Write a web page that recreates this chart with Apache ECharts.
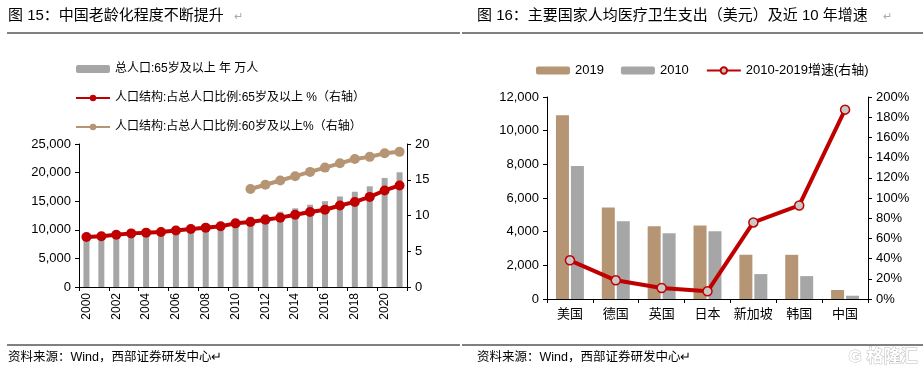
<!DOCTYPE html>
<html>
<head>
<meta charset="utf-8">
<script src="https://cdn.jsdelivr.net/npm/echarts@6/dist/echarts.min.js"></script>
<style>
html,body{margin:0;padding:0;background:#fff;}
#main{width:923px;height:377px;}
</style>
</head>
<body>
<div id="main"></div>
<script>
// 图15 数据
var years = ['2000','2001','2002','2003','2004','2005','2006','2007','2008','2009','2010',
    '2011','2012','2013','2014','2015','2016','2017','2018','2019','2020','2021'];
var pop65 = [8821,9062,9377,9692,9857,10055,10419,10636,10956,11307,11894,
    12288,12714,13161,13755,14386,15003,15831,16658,17603,19064,20056];
var ratio65 = [7.0,7.1,7.3,7.5,7.6,7.7,7.9,8.1,8.3,8.5,8.9,
    9.1,9.4,9.7,10.1,10.5,10.8,11.4,11.9,12.6,13.5,14.2];
var ratio60 = ['-','-','-','-','-','-','-','-','-','-','-',
    13.7,14.3,14.9,15.5,16.1,16.7,17.3,17.9,18.2,18.7,18.9];

// 图16 数据
var countries = ['美国','德国','英国','日本','新加坡','韩国','中国'];
var spend2019 = [10921,5440,4315,4360,2630,2625,535];
var spend2010 = [7900,4620,3910,4030,1480,1360,195];
var growth = [38.3,18.5,10.9,7.6,75.8,92.6,187.5];

var FONT = '"Liberation Sans","Noto Sans CJK SC",sans-serif';
var RED = '#c00000', TAN = '#b59574', GRAY = '#a6a6a6';

var fmtNum = function (v) { return v.toLocaleString('en-US'); };

var axisBase = {
    axisLine: {show: true, lineStyle: {color: '#000', width: 1}},
    axisTick: {show: true, inside: false, length: 4, lineStyle: {color: '#000'}},
    splitLine: {show: false},
    axisLabel: {color: '#000', fontSize: 13, fontFamily: FONT}
};

var myChart = echarts.init(document.getElementById('main'));
var option = {
    animation: false,
    textStyle: {fontFamily: FONT},
    graphic: [
        {type: 'text', left: 8, top: 8, style: {text: '图 15：中国老龄化程度不断提升', font: '15px ' + FONT, fill: '#000'}},
        {type: 'text', left: 234, top: 11, style: {text: '↵', font: '11px ' + FONT, fill: '#aaa'}},
        {type: 'text', left: 477, top: 8, style: {text: '图 16：主要国家人均医疗卫生支出（美元）及近 10 年增速', font: '15px ' + FONT, fill: '#000'}},
        {type: 'text', left: 883, top: 11, style: {text: '↵', font: '11px ' + FONT, fill: '#aaa'}},
        {type: 'line', shape: {x1: 7, y1: 33, x2: 460, y2: 33}, style: {stroke: '#000', lineWidth: 1}},
        {type: 'line', shape: {x1: 462, y1: 33, x2: 923, y2: 33}, style: {stroke: '#000', lineWidth: 1}},
        {type: 'line', shape: {x1: 7, y1: 345, x2: 460, y2: 345}, style: {stroke: '#000', lineWidth: 1}},
        {type: 'line', shape: {x1: 462, y1: 345, x2: 923, y2: 345}, style: {stroke: '#000', lineWidth: 1}},
        {type: 'text', left: 8, top: 351, style: {text: '资料来源：Wind，西部证券研发中心↵', font: '12.5px ' + FONT, fill: '#000'}},
        {type: 'text', left: 477, top: 351, style: {text: '资料来源：Wind，西部证券研发中心↵', font: '12.5px ' + FONT, fill: '#000'}},
        {type: 'text', left: 848, top: 348, style: {text: 'G 格隆汇', font: 'bold 17px ' + FONT, fill: '#fff', stroke: '#bbb', lineWidth: 1}}
    ],
    legend: [
        {
            orient: 'vertical', left: 70, top: 58, itemWidth: 34, itemHeight: 8, itemGap: 17,
            textStyle: {color: '#000', fontSize: 12, fontFamily: FONT},
            data: ['总人口:65岁及以上 年 万人', '人口结构:占总人口比例:65岁及以上 %（右轴）', '人口结构:占总人口比例:60岁及以上%（右轴）']
        },
        {
            orient: 'horizontal', left: 531, top: 59, itemWidth: 34, itemHeight: 8, itemGap: 17,
            textStyle: {color: '#000', fontSize: 13, fontFamily: FONT},
            data: ['2019', '2010', '2010-2019增速(右轴)']
        }
    ],
    grid: [
        {left: 79, right: 516, top: 144, bottom: 90},
        {left: 547, right: 55, top: 97, bottom: 78}
    ],
    xAxis: [
        echarts.util.merge({
            type: 'category', gridIndex: 0, data: years, boundaryGap: true,
            axisTick: {interval: 1, alignWithLabel: false},
            axisLabel: {interval: 1, rotate: 90, fontSize: 12, margin: 6}
        }, axisBase),
        echarts.util.merge({
            type: 'category', gridIndex: 1, data: countries, boundaryGap: true,
            axisLabel: {interval: 0, fontSize: 13, margin: 9}
        }, axisBase)
    ],
    yAxis: [
        echarts.util.merge({
            type: 'value', gridIndex: 0, min: 0, max: 25000, interval: 5000,
            axisLabel: {formatter: fmtNum}
        }, axisBase),
        echarts.util.merge({
            type: 'value', gridIndex: 0, position: 'right', min: 0, max: 20, interval: 5
        }, axisBase),
        echarts.util.merge({
            type: 'value', gridIndex: 1, min: 0, max: 12000, interval: 2000,
            axisLabel: {formatter: fmtNum}
        }, axisBase),
        echarts.util.merge({
            type: 'value', gridIndex: 1, position: 'right', min: 0, max: 200, interval: 20,
            axisLabel: {formatter: '{value}%'}
        }, axisBase)
    ],
    series: [
        {
            name: '总人口:65岁及以上 年 万人', type: 'bar', xAxisIndex: 0, yAxisIndex: 0,
            barWidth: 6, itemStyle: {color: GRAY}, data: pop65
        },
        {
            name: '人口结构:占总人口比例:65岁及以上 %（右轴）', type: 'line', xAxisIndex: 0, yAxisIndex: 1,
            symbol: 'circle', symbolSize: 10, showAllSymbol: true, lineStyle: {color: RED, width: 4},
            itemStyle: {color: RED}, data: ratio65
        },
        {
            name: '人口结构:占总人口比例:60岁及以上%（右轴）', type: 'line', xAxisIndex: 0, yAxisIndex: 1,
            symbol: 'circle', symbolSize: 10, showAllSymbol: true, lineStyle: {color: TAN, width: 4},
            itemStyle: {color: TAN}, data: ratio60
        },
        {
            name: '2019', type: 'bar', xAxisIndex: 1, yAxisIndex: 2,
            barWidth: 13, barGap: '15%', itemStyle: {color: TAN}, data: spend2019
        },
        {
            name: '2010', type: 'bar', xAxisIndex: 1, yAxisIndex: 2,
            barWidth: 13, barGap: '15%', itemStyle: {color: GRAY}, data: spend2010
        },
        {
            name: '2010-2019增速(右轴)', type: 'line', xAxisIndex: 1, yAxisIndex: 3,
            symbol: 'circle', symbolSize: 9, lineStyle: {color: RED, width: 4},
            itemStyle: {color: '#c8c8c8', borderColor: RED, borderWidth: 1.5}, data: growth
        }
    ]
};
myChart.setOption(option);
</script>
</body>
</html>
